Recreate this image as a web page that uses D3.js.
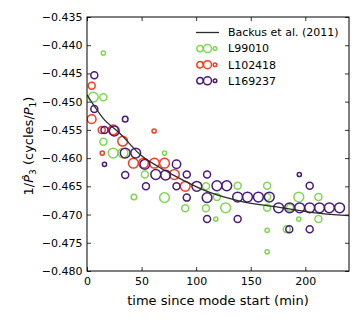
<!DOCTYPE html>
<html>
<head>
<meta charset="utf-8">
<script src="https://cdn.jsdelivr.net/npm/d3@7"></script>
<style>
    body { margin: 0; background: #fff; }
    text { font-family: "DejaVu Sans", sans-serif; fill: #000; }
</style>
</head>
<body>
<div id="chart"></div>
<script>
// model curve (time in min, 1/P3)
let modelTimes = [0, 15, 30, 50, 67, 80, 110, 140, 172, 205, 240]
let modelValues = [-0.4488, -0.4530, -0.4556, -0.4596, -0.4617, -0.4631, -0.4659, -0.4676, -0.4686, -0.4696, -0.4702]

// measurements: [time, 1/P3, weight] where weight drives the marker size
let l99010 = [
    [15, -0.4414, 1], [5.8, -0.4492, 3], [15, -0.4492, 2], [15, -0.4571, 2], [24, -0.4591, 3],
    [33, -0.4591, 3], [43, -0.4669, 1.5], [53, -0.4629, 2], [71, -0.4591, 1], [71, -0.4670, 3],
    [90, -0.4689, 2], [109, -0.4650, 2], [109, -0.4689, 2], [119, -0.4669, 2], [127, -0.4688, 3],
    [118, -0.4708, 1], [138, -0.4649, 2], [165, -0.4649, 2], [165, -0.4669, 2], [165, -0.4688, 2],
    [165, -0.4728, 1], [165, -0.4766, 1], [194, -0.4669, 3], [212, -0.4669, 2], [194, -0.4708, 1],
    [212, -0.4708, 2], [183, -0.4726, 2], [186, -0.4688, 2]
]
let l102418 = [
    [4.3, -0.4472, 2], [4.3, -0.4531, 2.6], [13.5, -0.4550, 2], [24, -0.4550, 3], [32.7, -0.4570, 3],
    [14, -0.4591, 1], [42.5, -0.4609, 3], [51.7, -0.4609, 3], [61.5, -0.4552, 1], [61.7, -0.4609, 3],
    [71, -0.4609, 3], [80, -0.4629, 3], [90, -0.4650, 3]
]
let l169237 = [
    [6.7, -0.4453, 2], [6.7, -0.4513, 2], [16, -0.4550, 2], [25, -0.4552, 3], [35, -0.4531, 1.5],
    [16, -0.4611, 1], [35, -0.4591, 3], [44.6, -0.4591, 3], [35, -0.4630, 2], [53, -0.4611, 3],
    [63, -0.4629, 3], [54, -0.4650, 2], [72, -0.4630, 3], [82, -0.4611, 2.5], [82, -0.4650, 2],
    [91.4, -0.4629, 2], [100.6, -0.4650, 3], [91.4, -0.4670, 2], [110, -0.4629, 2], [110, -0.4670, 3],
    [110, -0.4708, 2], [119, -0.4649, 3], [128, -0.4649, 3], [138, -0.4669, 3], [147, -0.4669, 3],
    [157, -0.4669, 3], [167, -0.4669, 3], [138, -0.4708, 2], [175.5, -0.4688, 3], [185.6, -0.4688, 3],
    [194.8, -0.4688, 3], [204, -0.4688, 3], [213, -0.4688, 3], [222, -0.4688, 3], [231.4, -0.4688, 3],
    [194.5, -0.4629, 1], [204, -0.4649, 2], [185.3, -0.4726, 2], [204, -0.4726, 2]
]

let seriesNames = ["L99010", "L102418", "L169237"]
let seriesData = [l99010, l102418, l169237]
let seriesColors = ["#7fd94f", "#ff3b1a", "#4b1a7d"]
let modelName = "Backus et al. (2011)"

let xTicks = [0, 50, 100, 150, 200]
let yTicks = [-0.480, -0.475, -0.470, -0.465, -0.460, -0.455, -0.450, -0.445, -0.440, -0.435]

// dimensions of the figure and the plot area
let width = 360, height = 321
let margin = {top: 17, right: 11, bottom: 50, left: 87}
let plotWidth = width - margin.left - margin.right,
    plotHeight = height - margin.top - margin.bottom

let svg = d3.select("#chart")
    .append("svg")
    .attr("width", width)
    .attr("height", height)

let g = svg.append("g")
    .attr("transform", "translate(" + margin.left + "," + margin.top + ")")

// scales
let x = d3.scaleLinear().domain([0, 240]).range([0, plotWidth])
let y = d3.scaleLinear().domain([-0.480, -0.435]).range([plotHeight, 0])
let r = d3.scaleLinear().domain([1, 3]).range([2.1, 4.9])

let fmt = d3.format(".3f")

// bottom and left axes with inward ticks
let xAxis = g.append("g")
    .attr("transform", "translate(0," + plotHeight + ")")
    .call(d3.axisBottom(x).tickValues(xTicks).tickSizeInner(-4).tickSizeOuter(0).tickPadding(6))
let yAxis = g.append("g")
    .call(d3.axisLeft(y).tickValues(yTicks).tickFormat(fmt).tickSizeInner(-4).tickSizeOuter(0).tickPadding(4.5))

// mirrored ticks on top and right, no labels
let xTop = g.append("g")
    .call(d3.axisTop(x).tickValues(xTicks).tickSizeInner(-4).tickSizeOuter(0).tickFormat(""))
let yRight = g.append("g")
    .attr("transform", "translate(" + plotWidth + ",0)")
    .call(d3.axisRight(y).tickValues(yTicks).tickSizeInner(-4).tickSizeOuter(0).tickFormat(""))

;[xAxis, yAxis, xTop, yRight].forEach(function(a) {
    a.select(".domain").remove()
    a.selectAll(".tick line").attr("stroke", "#000").attr("stroke-width", 0.8)
    a.selectAll(".tick text").style("font-size", "11px").attr("fill", "#000")
})

// clip the marks to the plot area
g.append("clipPath")
    .attr("id", "plot-clip")
    .append("rect")
    .attr("width", plotWidth)
    .attr("height", plotHeight)

let marks = g.append("g").attr("clip-path", "url(#plot-clip)")

// scatter points, one group per star
seriesData.forEach(function(data, i) {
    marks.append("g")
        .selectAll("circle")
        .data(data)
        .enter()
        .append("circle")
        .attr("cx", function(d) {return x(d[0])})
        .attr("cy", function(d) {return y(d[1])})
        .attr("r", function(d) {return r(d[2])})
        .attr("fill", "none")
        .attr("stroke", seriesColors[i])
        .attr("stroke-width", 1.5)
})

// model curve, drawn above the points
let line = d3.line()
    .x(function(d) {return x(d[0])})
    .y(function(d) {return y(d[1])})
    .curve(d3.curveMonotoneX)

marks.append("path")
    .datum(modelTimes.map(function(t, i) {return [t, modelValues[i]]}))
    .attr("d", line)
    .attr("fill", "none")
    .attr("stroke", "#2b2b2b")
    .attr("stroke-width", 1.3)

// frame
g.append("rect")
    .attr("width", plotWidth)
    .attr("height", plotHeight)
    .attr("fill", "none")
    .attr("stroke", "#000")
    .attr("stroke-width", 1)

// x-axis label
svg.append("text")
    .attr("x", margin.left + plotWidth / 2)
    .attr("y", 304.5)
    .style("text-anchor", "middle")
    .style("font-size", "13px")
    .text("time since mode start (min)")

// y-axis label with the hat and subscripts
let yLabel = svg.append("text")
    .attr("transform", "translate(33,146) rotate(-90)")
    .style("text-anchor", "middle")
    .style("font-size", "13px")
yLabel.append("tspan").text("1/")
yLabel.append("tspan").style("font-style", "italic").text("P\u0302")
yLabel.append("tspan").attr("dy", 3).style("font-size", "9px").text("3")
yLabel.append("tspan").attr("dy", -3).text(" (cycles/")
yLabel.append("tspan").style("font-style", "italic").text("P")
yLabel.append("tspan").attr("dy", 3).style("font-size", "9px").text("1")
yLabel.append("tspan").attr("dy", -3).text(")")

// legend
let legend = svg.append("g").attr("transform", "translate(196,32.5)")
let rowGap = 16.1

legend.append("line")
    .attr("x1", 0).attr("x2", 23)
    .attr("stroke", "#2b2b2b")
    .attr("stroke-width", 1.3)
legend.append("text")
    .attr("x", 32).attr("dy", "0.35em")
    .style("font-size", "11px")
    .text(modelName)

let legendMarkers = [[4, 3.2], [11.5, 4], [19, 1.8]]
seriesNames.forEach(function(name, i) {
    let row = legend.append("g").attr("transform", "translate(0," + (rowGap * (i + 1)) + ")")
    legendMarkers.forEach(function(m) {
        row.append("circle")
            .attr("cx", m[0])
            .attr("r", m[1])
            .attr("fill", "none")
            .attr("stroke", seriesColors[i])
            .attr("stroke-width", 1.5)
    })
    row.append("text")
        .attr("x", 32).attr("dy", "0.35em")
        .style("font-size", "11px")
        .text(name)
})
</script>
</body>
</html>
